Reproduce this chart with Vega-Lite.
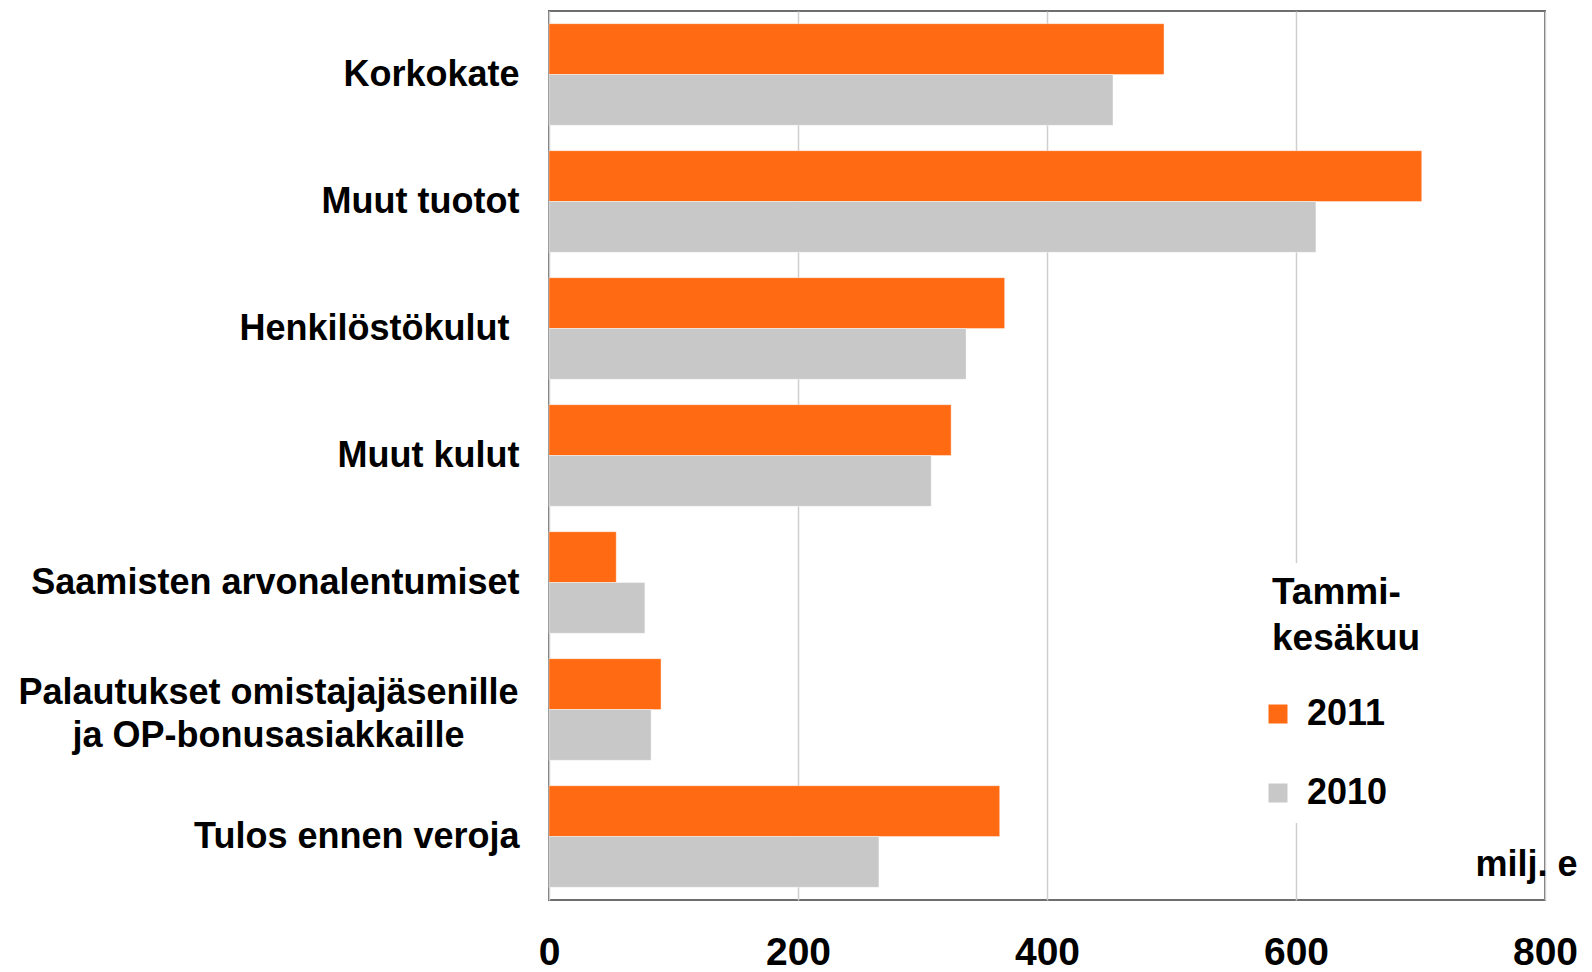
{
  "$schema": "https://vega.github.io/schema/vega-lite/v6.json",
  "width": 996,
  "height": 889,
  "autosize": {"type": "none"},
  "padding": {"left": 549, "top": 11, "right": 47, "bottom": 72},
  "background": "white",
  "config": {
    "font": "Liberation Sans",
    "view": {"stroke": "#6e6e6e", "strokeWidth": 2}
  },
  "data": {
    "values": [
      {"cat": "Korkokate", "year": "2011", "value": 494},
      {"cat": "Korkokate", "year": "2010", "value": 453},
      {"cat": "Muut tuotot", "year": "2011", "value": 701},
      {"cat": "Muut tuotot", "year": "2010", "value": 616},
      {"cat": "Henkilöstökulut", "year": "2011", "value": 366},
      {"cat": "Henkilöstökulut", "year": "2010", "value": 335},
      {"cat": "Muut kulut", "year": "2011", "value": 323},
      {"cat": "Muut kulut", "year": "2010", "value": 307},
      {"cat": "Saamisten arvonalentumiset", "year": "2011", "value": 54},
      {"cat": "Saamisten arvonalentumiset", "year": "2010", "value": 77},
      {"cat": "Palautukset omistajajäsenille|ja OP-bonusasiakkaille", "year": "2011", "value": 90},
      {"cat": "Palautukset omistajajäsenille|ja OP-bonusasiakkaille", "year": "2010", "value": 82},
      {"cat": "Tulos ennen veroja", "year": "2011", "value": 362},
      {"cat": "Tulos ennen veroja", "year": "2010", "value": 265}
    ]
  },
  "mark": {"type": "bar", "stroke": "white", "strokeOpacity": 0.4, "strokeWidth": 1},
  "encoding": {
    "y": {
      "field": "cat",
      "type": "nominal",
      "sort": null,
      "scale": {"paddingInner": 0.2, "paddingOuter": 0.1},
      "axis": {
        "title": null,
        "domain": false,
        "ticks": false,
        "grid": false,
        "labelExpr": "split(datum.value, '|')",
        "labelFont": "Liberation Sans",
        "labelFontWeight": "bold",
        "labelFontSize": 36,
        "labelColor": "black",
        "labelLineHeight": 43,
        "labelLimit": 0,
        "labelBaseline": "middle",
        "labelAlign": {"condition": {"test": "indexof(datum.value, '|') >= 0", "value": "center"}, "value": "right"},
        "labelPadding": {"condition": [{"test": "indexof(datum.value, '|') >= 0", "value": 281}, {"test": "datum.value === 'Henkilöstökulut'", "value": 40}], "value": 30},
        "labelOffset": {"condition": {"test": "indexof(datum.value, '|') >= 0", "value": -17}, "value": 0}
      }
    },
    "yOffset": {
      "field": "year",
      "type": "nominal",
      "sort": ["2011", "2010"],
      "scale": {"paddingInner": 0, "paddingOuter": 0}
    },
    "x": {
      "field": "value",
      "type": "quantitative",
      "scale": {"domain": [0, 800], "nice": false},
      "axis": {
        "values": [0, 200, 400, 600, 800],
        "domain": false,
        "ticks": false,
        "grid": true,
        "gridColor": "#cfcfcf",
        "gridWidth": 1.5,
        "labelFont": "Liberation Sans",
        "labelFontWeight": "bold",
        "labelFontSize": 39,
        "labelColor": "black",
        "labelPadding": 33,
        "labelFlush": false,
        "labelOverlap": false,
        "title": "milj. e",
        "titleFont": "Liberation Sans",
        "titleFontWeight": "bold",
        "titleFontSize": 36,
        "titleColor": "black",
        "titleAlign": "right",
        "titleBaseline": "alphabetic",
        "titleX": 1028,
        "titleY": -25
      }
    },
    "color": {
      "field": "year",
      "type": "nominal",
      "scale": {"domain": ["2011", "2010"], "range": ["#ff6a13", "#c8c8c8"]},
      "legend": {
        "title": ["Tammi-", "kesäkuu"],
        "orient": "none",
        "legendX": 711,
        "legendY": 552,
        "padding": 12,
        "fillColor": "white",
        "titleFont": "Liberation Sans",
        "titleFontWeight": "bold",
        "titleFontSize": 37,
        "titleLineHeight": 46,
        "titleColor": "black",
        "titlePadding": 38,
        "titleLimit": 0,
        "labelFont": "Liberation Sans",
        "labelFontWeight": "bold",
        "labelFontSize": 36,
        "labelColor": "black",
        "labelOffset": 11,
        "symbolType": "square",
        "symbolSize": 361,
        "symbolStrokeWidth": 0,
        "symbolOffset": -12,
        "rowPadding": 43,
        "offset": 0
      }
    }
  }
}
